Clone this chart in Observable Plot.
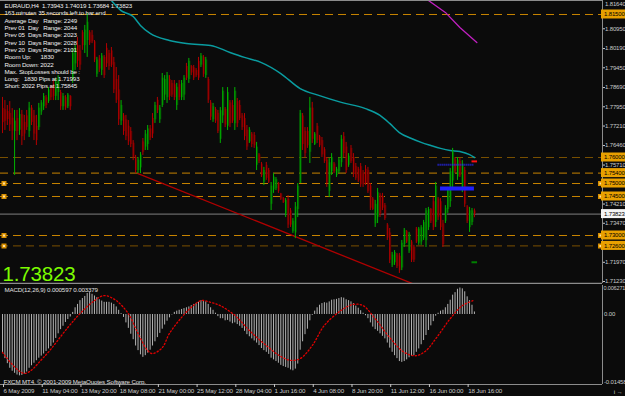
<!DOCTYPE html>
<html><head><meta charset="utf-8">
<script src="https://cdn.jsdelivr.net/npm/d3@7"></script>
<script src="https://cdn.jsdelivr.net/npm/@observablehq/plot@0.6"></script>
<style>
html,body{margin:0;padding:0;background:#0b0b0b;width:625px;height:396px;overflow:hidden;}
#chart svg{display:block;}
svg text{white-space:pre;letter-spacing:-0.15px;}
svg text.ax{letter-spacing:-0.22px;}
</style></head><body><div id="chart"></div>
<script>
// ---------- DATA (EURAUD H4) ----------
const high = [
1.7831,1.7819,1.7800,1.7815,1.7788,1.7781,1.7781,1.7788,1.7781,1.7762,
1.7781,1.7812,1.7800,1.7781,1.7762,1.7808,1.7819,1.7846,1.7838,1.7869,
1.7877,1.7896,1.7904,1.7915,1.7858,1.7846,1.7838,1.7846,1.7838,1.8019,
1.8031,1.8062,1.8031,1.8088,1.8108,1.8154,1.8088,1.8088,1.8050,1.7985,
1.7992,1.8000,1.7992,1.8038,1.8012,1.8023,1.7985,1.7946,1.7915,1.7819,
1.7769,1.7762,1.7742,1.7715,1.7665,1.7608,1.7600,1.7619,1.7673,1.7704,
1.7723,1.7723,1.7769,1.7812,1.7831,1.7800,1.7923,1.7915,1.7927,1.7915,
1.7896,1.7896,1.7885,1.7896,1.7896,1.7915,1.7962,1.7981,1.7954,1.7954,
1.7942,1.7985,1.8000,1.7992,1.7985,1.7908,1.7819,1.7808,1.7792,1.7781,
1.7792,1.7869,1.7792,1.7869,1.7819,1.7819,1.7869,1.7827,1.7819,1.7769,
1.7769,1.7723,1.7715,1.7696,1.7696,1.7658,1.7615,1.7581,1.7562,1.7581,
1.7558,1.7504,1.7538,1.7523,1.7504,1.7462,1.7446,1.7442,1.7454,1.7404,
1.7365,1.7427,1.7500,1.7781,1.7769,1.7715,1.7715,1.7831,1.7812,1.7696,
1.7731,1.7685,1.7677,1.7638,1.7600,1.7596,1.7615,1.7581,1.7562,1.7600,
1.7685,1.7696,1.7658,1.7615,1.7646,1.7615,1.7577,1.7562,1.7577,1.7550,
1.7569,1.7562,1.7500,1.7446,1.7435,1.7481,1.7462,1.7462,1.7423,1.7346,
1.7327,1.7235,1.7242,1.7231,1.7231,1.7281,1.7327,1.7319,1.7312,1.7281,
1.7262,1.7331,1.7331,1.7338,1.7358,1.7404,1.7408,1.7404,1.7446,1.7504,
1.7446,1.7442,1.7358,1.7415,1.7485,1.7558,1.7635,1.7600,1.7600,1.7596,
1.7588,1.7562,1.7415,1.7408,1.7404,1.74019];
const low = [
1.7692,1.7704,1.7723,1.7700,1.7665,1.7531,1.7665,1.7685,1.7646,1.7665,
1.7704,1.7677,1.7723,1.7665,1.7646,1.7704,1.7762,1.7781,1.7788,1.7808,
1.7819,1.7819,1.7819,1.7819,1.7781,1.7781,1.7781,1.7788,1.7781,1.7885,
1.7935,1.7946,1.7935,1.8012,1.8000,1.7985,1.8031,1.8038,1.7965,1.7908,
1.7927,1.7915,1.7904,1.7946,1.7935,1.7946,1.7846,1.7808,1.7723,1.7723,
1.7685,1.7665,1.7646,1.7638,1.7588,1.7538,1.7538,1.7538,1.7608,1.7627,
1.7627,1.7665,1.7673,1.7731,1.7769,1.7731,1.7792,1.7819,1.7808,1.7819,
1.7831,1.7819,1.7781,1.7819,1.7819,1.7819,1.7896,1.7885,1.7915,1.7896,
1.7908,1.7896,1.7946,1.7908,1.7904,1.7808,1.7742,1.7735,1.7731,1.7692,
1.7654,1.7731,1.7715,1.7704,1.7715,1.7731,1.7704,1.7715,1.7742,1.7704,
1.7665,1.7627,1.7654,1.7638,1.7635,1.7550,1.7577,1.7523,1.7492,1.7512,
1.7500,1.7396,1.7462,1.7473,1.7462,1.7435,1.7423,1.7369,1.7327,1.7331,
1.7308,1.7288,1.7369,1.7500,1.7627,1.7600,1.7635,1.7577,1.7654,1.7646,
1.7654,1.7638,1.7600,1.7577,1.7485,1.7446,1.7531,1.7538,1.7523,1.7538,
1.7562,1.7600,1.7538,1.7562,1.7577,1.7523,1.7512,1.7504,1.7485,1.7485,
1.7492,1.7462,1.7396,1.7396,1.7331,1.7346,1.7369,1.7396,1.7358,1.7281,
1.7192,1.7177,1.7185,1.7173,1.7154,1.7165,1.7254,1.7269,1.7231,1.7196,
1.7196,1.7269,1.7262,1.7262,1.7281,1.7254,1.7319,1.7346,1.7319,1.7331,
1.7358,1.7319,1.7254,1.7346,1.7385,1.7408,1.7485,1.7538,1.7512,1.7523,
1.7465,1.7408,1.7346,1.7312,1.7338,1.73684];
const open = [
1.7789,1.7784,1.7777,1.7770,1.7751,1.7700,1.7750,1.7705,1.7765,1.7735,
1.7760,1.7700,1.7790,1.7760,1.7720,1.7715,1.7775,1.7795,1.7830,1.7815,
1.7865,1.7880,1.7835,1.7850,1.7850,1.7795,1.7830,1.7795,1.7835,1.7900,
1.7960,1.8030,1.8010,1.8080,1.8030,1.8050,1.8080,1.8070,1.8045,1.7920,
1.7980,1.7935,1.7985,1.8020,1.8000,1.8010,1.7965,1.7900,1.7860,1.7740,
1.7760,1.7745,1.7720,1.7700,1.7655,1.7600,1.7550,1.7560,1.7660,1.7640,
1.7650,1.7710,1.7750,1.7745,1.7820,1.7745,1.7800,1.7840,1.7830,1.7900,
1.7885,1.7880,1.7800,1.7880,1.7830,1.7840,1.7950,1.7900,1.7950,1.7945,
1.7935,1.7970,1.7955,1.7985,1.7915,1.7900,1.7810,1.7745,1.7785,1.7770,
1.7670,1.7760,1.7785,1.7720,1.7810,1.7800,1.7730,1.7815,1.7800,1.7760,
1.7750,1.7705,1.7660,1.7690,1.7685,1.7570,1.7610,1.7575,1.7505,1.7570,
1.7550,1.7420,1.7475,1.7480,1.7500,1.7460,1.7442,1.7380,1.7440,1.7395,
1.7315,1.7310,1.7400,1.7500,1.7760,1.7700,1.7700,1.7620,1.7790,1.7650,
1.7720,1.7680,1.7665,1.7630,1.7590,1.7470,1.7545,1.7575,1.7530,1.7545,
1.7580,1.7680,1.7640,1.7570,1.7635,1.7600,1.7565,1.7555,1.7565,1.7540,
1.7555,1.7550,1.7490,1.7440,1.7345,1.7370,1.7455,1.7450,1.7415,1.7340,
1.7310,1.7185,1.7195,1.7225,1.7220,1.7175,1.7265,1.7315,1.7240,1.7275,
1.7255,1.7325,1.7270,1.7275,1.7290,1.7280,1.7330,1.7400,1.7430,1.7350,
1.7440,1.7430,1.7345,1.7355,1.7400,1.7430,1.7510,1.7590,1.7525,1.7585,
1.7480,1.7550,1.7410,1.7330,1.7350,1.73943];
const close = [
1.7734,1.7739,1.7746,1.7725,1.7702,1.7740,1.7700,1.7765,1.7680,1.7690,
1.7715,1.7790,1.7735,1.7690,1.7665,1.7790,1.7810,1.7835,1.7800,1.7860,
1.7830,1.7835,1.7890,1.7900,1.7795,1.7835,1.7790,1.7840,1.7795,1.8000,
1.8020,1.7970,1.7955,1.8030,1.8090,1.8120,1.8040,1.8045,1.7975,1.7975,
1.7940,1.7990,1.7915,1.7960,1.7950,1.7955,1.7860,1.7820,1.7745,1.7800,
1.7700,1.7680,1.7660,1.7650,1.7600,1.7550,1.7590,1.7610,1.7620,1.7690,
1.7710,1.7675,1.7690,1.7800,1.7780,1.7790,1.7905,1.7900,1.7915,1.7835,
1.7840,1.7830,1.7870,1.7830,1.7885,1.7905,1.7905,1.7970,1.7925,1.7905,
1.7915,1.7905,1.7990,1.7920,1.7975,1.7820,1.7755,1.7795,1.7740,1.7700,
1.7780,1.7855,1.7725,1.7850,1.7730,1.7740,1.7855,1.7730,1.7750,1.7715,
1.7680,1.7640,1.7705,1.7650,1.7645,1.7640,1.7585,1.7530,1.7550,1.7520,
1.7505,1.7490,1.7525,1.7515,1.7470,1.7440,1.7427,1.7435,1.7340,1.7340,
1.7355,1.7410,1.7490,1.7770,1.7650,1.7615,1.7645,1.7790,1.7670,1.7690,
1.7665,1.7645,1.7610,1.7585,1.7500,1.7580,1.7600,1.7545,1.7555,1.7590,
1.7670,1.7615,1.7550,1.7605,1.7585,1.7535,1.7520,1.7510,1.7495,1.7495,
1.7500,1.7470,1.7405,1.7400,1.7420,1.7465,1.7380,1.7405,1.7365,1.7290,
1.7205,1.7225,1.7235,1.7180,1.7165,1.7270,1.7320,1.7275,1.7305,1.7205,
1.7205,1.7275,1.7325,1.7330,1.7350,1.7395,1.7400,1.7355,1.7330,1.7490,
1.7370,1.7330,1.7265,1.7405,1.7475,1.7545,1.7620,1.7545,1.7590,1.7530,
1.7575,1.7420,1.7355,1.7395,1.7395,1.73823];

// moving average (cyan) and magenta line, sampled at bar indices
const maIdx = [45,49,54,57,61,69,76,86,94,100,107,115,123,131,140,150,156,160,164,169,173,177,181,185,189,193,195];
const maVal = [1.8204,1.8165,1.8142,1.8108,1.8077,1.8050,1.8038,1.8031,1.8004,1.7985,1.7965,1.7923,1.7865,1.7838,1.7812,1.7788,1.7762,1.7731,1.7696,1.7673,1.7658,1.7646,1.7635,1.7627,1.7623,1.7611,1.7600];
const magIdx = [176,183,189,196];
const magVal = [1.8204,1.8158,1.8100,1.8042];
// trend line
const trendIdx = [56,170];
const trendVal = [1.7538,1.7113];
// horizontal levels
const levelsBright = [1.815,1.754,1.750,1.745,1.730];
const levelsDim = [1.760,1.726];
const levelMarks = [1.750,1.745,1.730,1.726];
const lastPrice = 1.73823;
// short segments at the right
const blueBar = {i1:181, i2:195, p:1.7481};
const blueDots = {i1:180, i2:195, p:1.7572};
const redDash = {i1:194, i2:196.3, p:1.7585};
const greenDash = {i1:194, i2:196.3, p:1.7197};
// price axis ticks
const priceTicks = [1.8095,1.8019,1.7945,1.7869,1.7795,1.7721,1.7646,1.7571,1.7421,1.7347,1.7197,1.7123];
const topTick = 1.8164;

// MACD histogram (one per bar)
const macd = [
-0.0093,-0.0105,-0.0117,-0.0128,-0.0135,-0.0140,-0.0144,-0.0146,-0.0145,-0.0142,
-0.0137,-0.0128,-0.0122,-0.0116,-0.0110,-0.0104,-0.0099,-0.0094,-0.0088,-0.0082,
-0.0076,-0.0068,-0.0057,-0.0046,-0.0036,-0.0028,-0.0019,-0.0012,-0.0006,0.0005,
0.0016,0.0024,0.0033,0.0038,0.0043,0.0050,0.0052,0.0048,0.0044,0.0040,
0.0035,0.0032,0.0029,0.0029,0.0029,0.0027,0.0024,0.0018,0.0010,0.0002,
-0.0007,-0.0020,-0.0033,-0.0047,-0.0060,-0.0075,-0.0086,-0.0096,-0.0102,-0.0098,
-0.0092,-0.0085,-0.0075,-0.0065,-0.0055,-0.0045,-0.0035,-0.0025,-0.0016,-0.0008,
-0.0001,0.0005,0.0008,0.0010,0.0012,0.0014,0.0016,0.0018,0.0021,0.0024,
0.0026,0.0029,0.0033,0.0031,0.0030,0.0024,0.0016,0.0010,0.0003,-0.0005,
-0.0010,-0.0010,-0.0015,-0.0014,-0.0018,-0.0022,-0.0020,-0.0024,-0.0028,-0.0033,
-0.0040,-0.0048,-0.0053,-0.0058,-0.0063,-0.0068,-0.0074,-0.0081,-0.0086,-0.0090,
-0.0095,-0.0104,-0.0108,-0.0112,-0.0116,-0.0121,-0.0124,-0.0126,-0.0128,-0.0132,
-0.0134,-0.0130,-0.0118,-0.0085,-0.0065,-0.0048,-0.0035,-0.0015,-0.0002,0.0008,
0.0016,0.0022,0.0026,0.0028,0.0027,0.0030,0.0034,0.0035,0.0036,0.0038,
0.0040,0.0039,0.0035,0.0033,0.0030,0.0026,0.0020,0.0015,0.0009,0.0003,
-0.0003,-0.0010,-0.0020,-0.0030,-0.0036,-0.0040,-0.0046,-0.0052,-0.0058,-0.0068,
-0.0080,-0.0090,-0.0098,-0.0105,-0.0112,-0.0114,-0.0112,-0.0108,-0.0103,-0.0100,
-0.0098,-0.0090,-0.0082,-0.0072,-0.0062,-0.0050,-0.0038,-0.0027,-0.0017,-0.0004,
0.0003,0.0008,0.0010,0.0016,0.0024,0.0034,0.0046,0.0052,0.0060,0.0063,
0.0061,0.0054,0.0042,0.0033,0.0022,0.0006];
// MACD signal line
const sigIdx = [0,9,17,27,32,38,42,47,52,56,60,62,66,69,74,78,82,86,90,96,102,109,115,119,123,128,133,140,145,149,154,160,166,171,175,180,185,190,195];
const sigVal = [-0.0090,-0.0140,-0.0102,-0.0031,0.0002,0.0033,0.0045,0.0033,0.0002,-0.0045,-0.0086,-0.0093,-0.0079,-0.0045,-0.0007,0.0017,0.0033,0.0029,0.0021,-0.0002,-0.0038,-0.0074,-0.0100,-0.0109,-0.0105,-0.0074,-0.0026,0.0010,0.0024,0.0021,-0.0010,-0.0055,-0.0090,-0.0098,-0.0086,-0.0050,-0.0010,0.0021,0.0034];
const macdTop = 0.006271;
const macdZero = 0;
const macdBottom = -0.01458;

// time axis labels
const dateIdx = [0,16,32,48,64,80,96,112,128,144,160,176,192];
const dateLabels = ["6 May 2009","11 May 04:00","13 May 20:00","18 May 08:00","21 May 00:00","25 May 12:00","28 May 04:00","1 Jun 16:00","4 Jun 08:00","8 Jun 20:00","11 Jun 12:00","16 Jun 00:00","18 Jun 16:00"];

// texts
const infoLines = [
"EURAUD,H4  1.73943 1.74019 1.73684 1.73823",
"163 minutes 35 seconds left to bar end",
"Average Day   Range: 2249",
"Prev 01  Day   Range: 2044",
"Prev 05  Days Range: 2023",
"Prev 10  Days Range: 2028",
"Prev 20  Days Range: 2101",
"Room Up:      1830",
"Room Down: 2022",
"Max. StopLosses should be :",
"Long:   1830 Pips at 1.71993",
"Short: 2022 Pips at 1.75845"];
const macdTitle = "MACD(12,26,9) 0.000597 0.003379";
const copyright = "FXCM MT4, \u00a9 2001-2009 MetaQuotes Software Corp.";

// ---------- BUILD ----------
const XMIN = -0.826, XMAX = 247.93;
const YMIN = 1.71154, YMAX = 1.82038;
const bars = high.map((h, i) => ({i, h, l: low[i], o: open[i], c: close[i]}));
const upBars = bars.filter(d => d.c >= d.o);
const dnBars = bars.filter(d => d.c < d.o);
const ma = maIdx.map((i, k) => ({i, v: maVal[k]}));
const mag = magIdx.map((i, k) => ({i, v: magVal[k]}));
const trend = trendIdx.map((i, k) => ({i, v: trendVal[k]}));
const allLevels = levelsBright.concat(levelsDim);
const FONT = "'Liberation Sans', Arial, sans-serif";
const TXT = "#c8c8c8";
const FS = 6.2;
const AFS = 6;

const main = Plot.plot({
  width: 625, height: 284,
  marginLeft: 0, marginRight: 23, marginTop: 0, marginBottom: 1,
  style: {background: "#0b0b0b", color: TXT, fontFamily: FONT, fontSize: FS + "px"},
  x: {domain: [XMIN, XMAX], axis: null},
  y: {domain: [YMIN, YMAX], axis: null},
  marks: [
    Plot.ruleY(levelsDim, {stroke: "#7a5000", strokeDasharray: "8,5"}),
    Plot.ruleY(levelsBright, {stroke: "#c88400", strokeDasharray: "8,5"}),
    Plot.ruleY([lastPrice], {stroke: "#808080"}),
    Plot.line(ma, {x: "i", y: "v", stroke: "#0a9ca0", strokeWidth: 1.5, curve: "monotone-x", clip: true}),
    Plot.line(mag, {x: "i", y: "v", stroke: "#c020c0", strokeWidth: 1.3, clip: true}),
    Plot.line(trend, {x: "i", y: "v", stroke: "#b00000", strokeWidth: 1.3, clip: true}),
    Plot.ruleX(upBars, {x: "i", y1: "o", y2: "c", stroke: "#005200", strokeWidth: 2, dx: 0.5}),
    Plot.ruleX(dnBars, {x: "i", y1: "o", y2: "c", stroke: "#580000", strokeWidth: 2, dx: 0.5}),
    Plot.ruleX(upBars, {x: "i", y1: "l", y2: "h", stroke: "#00b400"}),
    Plot.ruleX(dnBars, {x: "i", y1: "l", y2: "h", stroke: "#b40000"}),
    Plot.ruleY([blueDots], {x1: "i1", x2: "i2", y: "p", stroke: "#2a2aff", strokeWidth: 2, strokeDasharray: "1,1"}),
    Plot.ruleY([blueBar], {x1: "i1", x2: "i2", y: "p", stroke: "#2020ff", strokeWidth: 4}),
    Plot.ruleY([redDash], {x1: "i1", x2: "i2", y: "p", stroke: "#ff1010", strokeWidth: 2}),
    Plot.ruleY([greenDash], {x1: "i1", x2: "i2", y: "p", stroke: "#008000", strokeWidth: 2}),
    Plot.dot(levelMarks, {x: XMIN, y: d => d, dx: 3.5, symbol: "square", r: 2, fill: "#ffe0a0", stroke: "#d89000"}),
    Plot.dot(levelMarks, {x: XMAX, y: d => d, dx: -2, symbol: "square", r: 2, fill: "#ffe0a0", stroke: "#d89000"}),
    Plot.text([infoLines.join("\n")], {frameAnchor: "top-left", textAnchor: "start", lineAnchor: "top", dx: 4, dy: 2.5, lineHeight: 7.3 / FS, fill: "#f0f0f0", fontSize: FS}),
    Plot.text([lastPrice.toFixed(5)], {frameAnchor: "bottom-left", textAnchor: "start", lineAnchor: "bottom", dx: 2, dy: -3, fill: "#7cfc00", fontSize: 20.5}),
    // right axis
    Plot.ruleX([XMAX], {stroke: "#8c8c8c"}),
    Plot.ruleY([YMIN], {stroke: "#8c8c8c", strokeWidth: 1.5}),
    Plot.ruleY([YMAX], {stroke: "#8c8c8c"}),
    Plot.axisY({anchor: "right", ticks: priceTicks, tickFormat: d => d.toFixed(5), tickSize: 2, tickPadding: 0.5, fontSize: AFS, className: "ax"}),
    Plot.text([topTick], {x: XMAX, y: d => d, text: d => d.toFixed(5), dx: 2.5, dy: -7, textAnchor: "start", fill: TXT, fontSize: AFS, className: "ax"}),
    Plot.rect(allLevels, {x1: XMAX, x2: XMAX, y1: d => d, y2: d => d, insetLeft: -1, insetRight: -23, insetTop: -4.5, insetBottom: -4.5, fill: "#e8a000"}),
    Plot.text(allLevels, {x: XMAX, y: d => d, text: d => d.toFixed(5), dx: 1.5, textAnchor: "start", fill: "#000", fontSize: AFS, className: "ax"}),
    Plot.rect([lastPrice], {x1: XMAX, x2: XMAX, y1: d => d, y2: d => d, insetLeft: -1, insetRight: -23, insetTop: -4.5, insetBottom: -4.5, fill: "#f4f4f4"}),
    Plot.text([lastPrice], {x: XMAX, y: d => d, text: d => d.toFixed(5), dx: 1.5, textAnchor: "start", fill: "#000", fontSize: AFS, className: "ax"})
  ]
});

const macdRows = macd.map((v, i) => ({i, v}));
const sig = sigIdx.map((i, k) => ({i, v: sigVal[k]}));
const lower = Plot.plot({
  width: 625, height: 112,
  marginLeft: 0, marginRight: 23, marginTop: 1, marginBottom: 12,
  style: {background: "#0b0b0b", color: TXT, fontFamily: FONT, fontSize: FS + "px"},
  x: {domain: [XMIN, XMAX], axis: null},
  y: {domain: [-0.01666, 0.0069], axis: null},
  marks: [
    Plot.ruleX(macdRows, {x: "i", y1: 0, y2: "v", stroke: "#b4b4b4"}),
    Plot.line(sig, {x: "i", y: "v", stroke: "#e00000", strokeWidth: 1.3, strokeDasharray: "1.3,2.2", curve: "catmull-rom"}),
    Plot.text([macdTitle], {frameAnchor: "top-left", textAnchor: "start", lineAnchor: "top", dx: 4, dy: 2.5, fill: "#e0e0e0", fontSize: FS}),
    Plot.text([copyright], {frameAnchor: "bottom-left", textAnchor: "start", lineAnchor: "bottom", dx: 3, dy: -1, fill: "#e0e0e0", fontSize: FS}),
    Plot.ruleX([XMAX], {stroke: "#8c8c8c"}),
    Plot.ruleY([-0.01666], {stroke: "#8c8c8c"}),
    Plot.text([macdTop], {x: XMAX, y: d => d, text: d => d.toFixed(6), dx: 1, textAnchor: "start", fill: TXT, fontSize: 5.5, className: "ax"}),
    Plot.text([macdZero], {x: XMAX, y: d => d, text: () => "0.00", dx: 1.5, textAnchor: "start", fill: TXT, fontSize: AFS, className: "ax"}),
    Plot.text([macdBottom], {x: XMAX, y: d => d, text: d => d.toFixed(5), dx: 1.5, dy: 6, textAnchor: "start", fill: TXT, fontSize: AFS, className: "ax"}),
    Plot.axisX({ticks: dateIdx, tickFormat: d => dateLabels[dateIdx.indexOf(d)], textAnchor: "start", tickSize: 3, tickPadding: 1, dx: 1, fontSize: FS})
  ]
});

document.getElementById("chart").append(main, lower);
</script></body></html>
